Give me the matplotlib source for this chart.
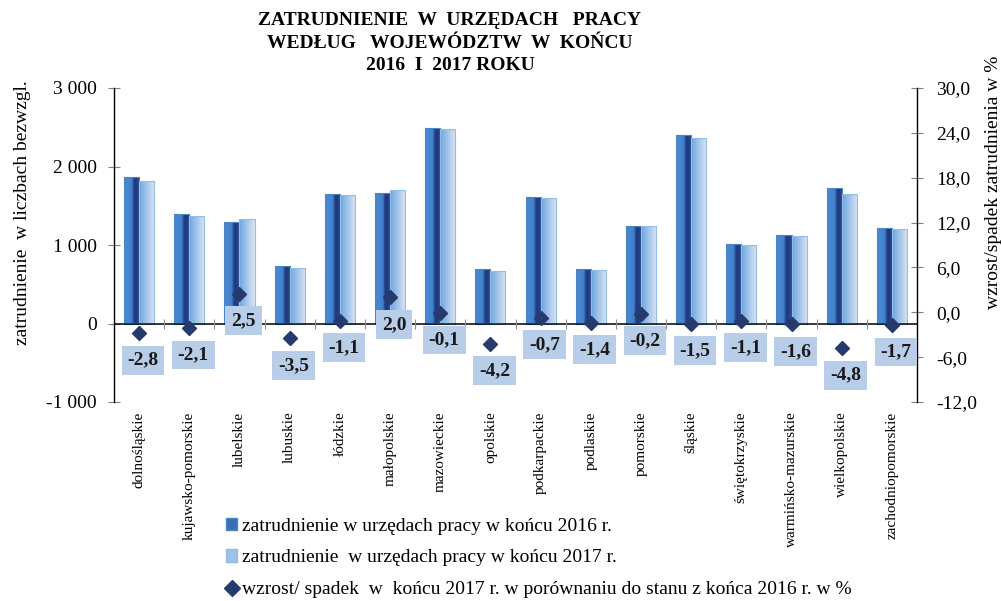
import matplotlib
matplotlib.use("Agg")
import matplotlib.pyplot as plt
import numpy as np
from matplotlib.colors import LinearSegmentedColormap
from matplotlib.patches import Rectangle
from matplotlib.lines import Line2D

plt.rcParams['font.family'] = ['Liberation Serif', 'DejaVu Serif']

wojewodztwa = ["dolnośląskie", "kujawsko-pomorskie", "lubelskie", "lubuskie", "łódzkie",
               "małopolskie", "mazowieckie", "opolskie", "podkarpackie", "podlaskie",
               "pomorskie", "śląskie", "świętokrzyskie", "warmińsko-mazurskie",
               "wielkopolskie", "zachodniopomorskie"]
zatr_2016 = [1868, 1395, 1293, 736, 1656, 1668, 2485, 698,
             1617, 698, 1238, 2400, 1017, 1132, 1732, 1222]
zatr_2017 = [1817, 1370, 1328, 708, 1640, 1702, 2483, 668,
             1605, 687, 1236, 2360, 1006, 1114, 1650, 1200]
zmiana_proc = [-2.8, -2.1, 2.5, -3.5, -1.1, 2.0, -0.1, -4.2,
               -0.7, -1.4, -0.2, -1.5, -1.1, -1.6, -4.8, -1.7]

lewe_ticki = [-1000, 0, 1000, 2000, 3000]
prawe_ticki = [-12, -6, 0, 6, 12, 18, 24, 30]

seria1 = "zatrudnienie w urzędach pracy w końcu 2016 r."
seria2 = "zatrudnienie  w urzędach pracy w końcu 2017 r."
seria3 = "wzrost/ spadek  w  końcu 2017 r. w porównaniu do stanu z końca 2016 r. w %"
tytul = "ZATRUDNIENIE  W  URZĘDACH   PRACY\nWEDŁUG   WOJEWÓDZTW  W  KOŃCU\n2016  I  2017 ROKU"

granat = "#263a6e"
cmap16 = LinearSegmentedColormap.from_list("c16", [(0, "#4a8ad2"), (0.5, "#4280cb"),
                                                   (0.58, "#2a4f98"), (0.7, "#1d3878"),
                                                   (1, "#2b4c94")])
cmap17 = LinearSegmentedColormap.from_list("c17", [(0, "#6ca6df"), (0.5, "#a4c6ec"),
                                                   (1, "#dee4ef")])


def gradient_bars(ax, bars, cmap):
    grad = np.linspace(0, 1, 64).reshape(1, -1)
    for p in bars:
        x0, y0 = p.get_x(), p.get_y()
        im = ax.imshow(grad, cmap=cmap, aspect='auto', origin='lower',
                       extent=[x0, x0 + p.get_width(), y0, y0 + p.get_height()],
                       zorder=p.get_zorder() - 0.1)
        im.set_clip_path(p)


fig = plt.figure(figsize=(10.01, 6.01), dpi=100)
ax = fig.add_axes([114 / 1001, 1 - 402 / 601, (917 - 114) / 1001, (402 - 88) / 601])

x = np.arange(len(wojewodztwa))
w = 0.3
b1 = ax.bar(x - w, zatr_2016, w, align='edge', facecolor='none', edgecolor='#4a86c8', lw=0.8, zorder=2)
b2 = ax.bar(x, zatr_2017, w, align='edge', facecolor='none', edgecolor='#94bce6', lw=0.8, zorder=2)
gradient_bars(ax, b1, cmap16)
gradient_bars(ax, b2, cmap17)

ax.axhline(0, color='black', lw=1.1, zorder=3)
ax.plot(x[:-1] + 0.5, np.zeros(len(x) - 1), ls='none', marker='|', ms=7, mew=0.8,
        color='#909090', zorder=3)

ax.set_xlim(-0.5, len(x) - 0.5)
ax.set_ylim(-1000, 3000)
ax.set_yticks(lewe_ticki)
ax.set_yticklabels([f"{v:,}".replace(",", " ") for v in lewe_ticki], fontsize=14)
ax.tick_params(axis='y', direction='inout', length=9, color='#808080', pad=8)
ax.set_xticks(x)
ax.set_xticklabels(wojewodztwa, rotation=90, fontsize=11, va='top', ha='center')
ax.tick_params(axis='x', length=0, pad=7)
for s in ['top', 'bottom', 'right']:
    ax.spines[s].set_visible(False)
ax.spines['left'].set_linewidth(1.0)

ax2 = ax.twinx()
ax2.plot(x, zmiana_proc, ls='none', marker='D', ms=7.5, color=granat, zorder=4)
for xi, v in zip(x, zmiana_proc):
    ax2.annotate(f"{v:.1f}".replace(".", ","), (xi, v), xytext=(4, -27),
                 textcoords='offset pixels', ha='center', va='center',
                 fontsize=14, fontweight='bold', color='#1a1a1a',
                 bbox=dict(boxstyle='square,pad=0.3', fc='#b8cee8', ec='none'))
ax2.set_ylim(-12, 30)
ax2.set_yticks(prawe_ticki)
ax2.set_yticklabels([f"{v:.1f}".replace(".", ",") for v in prawe_ticki], fontsize=14)
ax2.tick_params(axis='y', direction='inout', length=9, color='#808080', pad=9)
for s in ['top', 'bottom', 'left']:
    ax2.spines[s].set_visible(False)
ax2.spines['right'].set_linewidth(1.0)

fig.text(450 / 1001, 1 - 43 / 601, tytul, ha='center', va='center', fontsize=14,
         fontweight='bold', linespacing=1.4)
fig.text(23 / 1001, 1 - 213 / 601, "zatrudnienie  w liczbach bezwzgl.", rotation=90,
         ha='center', va='center', fontsize=14)
fig.text(994 / 1001, 1 - 182 / 601, "wzrost/spadek zatrudnienia w %", rotation=90,
         ha='center', va='center', fontsize=14)

handles = [Rectangle((0, 0), 1, 1, fc='#3a6fb8', ec='#4a86c8'),
           Rectangle((0, 0), 1, 1, fc='#9cc2ea', ec='#94bce6'),
           Line2D([], [], ls='none', marker='D', ms=8, color=granat)]
fig.legend(handles, [seria1, seria2, seria3], loc='upper left',
           bbox_to_anchor=(218 / 1001, 1 - 510 / 601), frameon=False, fontsize=14,
           handlelength=0.6, handleheight=0.6, handletextpad=0.25, labelspacing=0.75,
           borderaxespad=0)

fig.savefig("out.png", dpi=100)
